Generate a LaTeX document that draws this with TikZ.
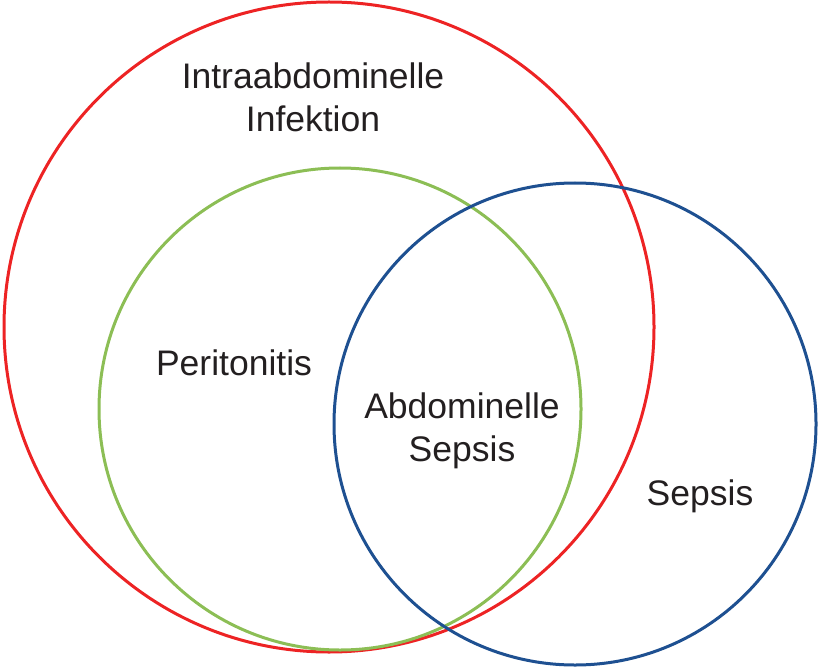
\documentclass[tikz,border=0pt]{standalone}
\usepackage{fontspec}
\setmainfont{Liberation Sans}
\usetikzlibrary{positioning}
\definecolor{ringred}{RGB}{237,35,36}
\definecolor{ringgreen}{RGB}{140,190,85}
\definecolor{ringblue}{RGB}{30,80,145}
\definecolor{labeltext}{RGB}{35,31,32}
\begin{document}
\begin{tikzpicture}[x=1pt, y=-1pt, thick, every node/.style={align=center, text=labeltext, font=\fontsize{35.5}{43}\selectfont}]
    \useasboundingbox (0,0) rectangle (818,668);
    % circles
    \node (infektion) [draw=ringred, line width=3pt, circle, minimum size=650pt, inner sep=0pt] at (329,327) {};
    \node (peritonitis) [draw=ringgreen, line width=3pt, circle, minimum size=482pt, inner sep=0pt] at (340,409) {};
    \node (sepsis) [draw=ringblue, line width=3pt, circle, minimum size=482pt, inner sep=0pt] at (575,424) {};

    % labels
    \node (infektion_lbl) at (313,97) {Intraabdominelle \\ Infektion};
    \node (peritonitis_lbl) at (234,363) {Peritonitis};
    \node (abdsepsis_lbl) at (462,431) {Abdominelle \\ Sepsis};
    \node (sepsis_lbl) at (700,496) {Sepsis};
\end{tikzpicture}
\end{document}
